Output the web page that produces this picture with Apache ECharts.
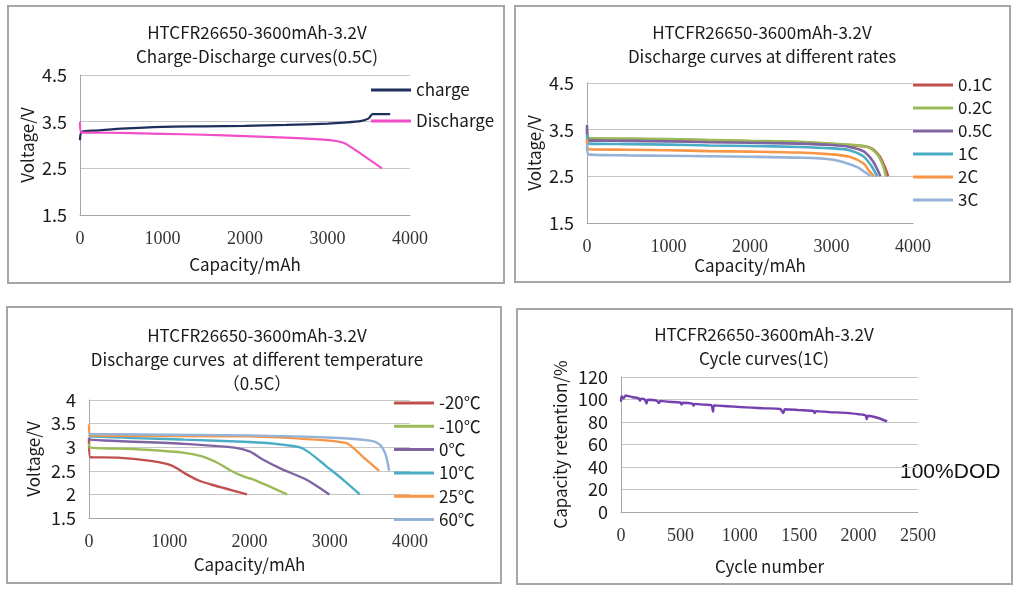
<!DOCTYPE html>
<html>
<head>
<meta charset="utf-8">
<script src="https://cdn.jsdelivr.net/npm/echarts@6/dist/echarts.min.js"></script>
<style>
  html, body { margin: 0; padding: 0; background: #fff; }
  #main { width: 1024px; height: 596px; }
</style>
</head>
<body>
<div id="main"></div>
<script>
// panel 1: charge / discharge at 0.5C  [capacity mAh, voltage V]
const chargeCurve = [[0, 3.10], [20, 3.28], [200, 3.31], [500, 3.35], [1000, 3.39], [1500, 3.40], [2000, 3.41], [2500, 3.43], [3000, 3.46], [3200, 3.48], [3400, 3.51], [3500, 3.57], [3545, 3.66], [3760, 3.66]];
const dischargeCurve = [[0, 3.50], [15, 3.27], [500, 3.26], [1000, 3.24], [1500, 3.22], [2000, 3.19], [2500, 3.16], [2900, 3.12], [3050, 3.10], [3150, 3.07], [3230, 3.02], [3660, 2.50]];

// panel 2: discharge at different rates
const rateNames = ['0.1C', '0.2C', '0.5C', '1C', '2C', '3C'];
const rate01 = [[0, 3.45], [20, 3.31], [500, 3.30], [1000, 3.29], [1500, 3.27], [2000, 3.25], [2600, 3.23], [3000, 3.19], [3420, 3.14], [3510, 3.08], [3590, 2.93], [3650, 2.72], [3695, 2.50]];
const rate02 = [[0, 3.55], [20, 3.32], [500, 3.31], [1000, 3.30], [1500, 3.28], [2000, 3.26], [2600, 3.24], [3000, 3.20], [3400, 3.15], [3490, 3.09], [3570, 2.95], [3630, 2.74], [3668, 2.50]];
const rate05 = [[0, 3.60], [20, 3.27], [500, 3.26], [1000, 3.25], [1500, 3.23], [2000, 3.22], [2600, 3.20], [3000, 3.17], [3220, 3.13], [3390, 3.04], [3470, 2.91], [3530, 2.76], [3600, 2.50]];
const rate1 = [[0, 3.40], [20, 3.20], [500, 3.19], [1000, 3.18], [1500, 3.16], [2000, 3.15], [2600, 3.13], [3000, 3.10], [3220, 3.06], [3390, 2.93], [3490, 2.72], [3560, 2.50]];
const rate2 = [[0, 3.30], [20, 3.08], [500, 3.07], [1000, 3.06], [1500, 3.04], [2000, 3.03], [2600, 3.01], [3000, 2.97], [3220, 2.92], [3390, 2.78], [3470, 2.60], [3520, 2.50]];
const rate3 = [[0, 3.20], [20, 2.97], [500, 2.95], [1000, 2.94], [1500, 2.93], [2000, 2.92], [2600, 2.90], [3000, 2.86], [3300, 2.71], [3420, 2.58], [3480, 2.50]];

// panel 3: discharge at different temperature (0.5C)
const tempNames = ['-20℃', '-10℃', '0℃', '10℃', '25℃', '60℃'];
const tempM20 = [[0, 3.20], [15, 2.79], [360, 2.78], [770, 2.71], [980, 2.64], [1100, 2.55], [1200, 2.44], [1360, 2.30], [1520, 2.21], [1690, 2.13], [1970, 2.00]];
const tempM10 = [[0, 3.08], [15, 2.99], [360, 2.97], [770, 2.94], [1190, 2.88], [1400, 2.81], [1600, 2.67], [1770, 2.50], [1940, 2.37], [2060, 2.31], [2470, 2.00]];
const temp0 = [[0, 3.20], [15, 3.16], [360, 3.13], [1190, 3.07], [1810, 2.99], [2000, 2.91], [2165, 2.74], [2410, 2.53], [2700, 2.32], [2995, 2.00]];
const temp10 = [[0, 3.26], [15, 3.23], [1190, 3.16], [2000, 3.11], [2330, 3.07], [2620, 3.00], [2750, 2.88], [2955, 2.60], [3160, 2.32], [3375, 2.00]];
const temp25 = [[0, 3.48], [15, 3.25], [2000, 3.23], [2830, 3.16], [3200, 3.09], [3290, 2.99], [3450, 2.74], [3615, 2.50]];
const temp60 = [[0, 3.30], [15, 3.28], [2000, 3.25], [3040, 3.20], [3500, 3.14], [3620, 3.06], [3695, 2.85], [3740, 2.50]];

// panel 4: cycle life at 1C  [cycle, capacity retention %]
const cycleCurve = [[0, 98], [5, 103], [20, 101], [40, 103.5], [60, 103], [100, 102], [150, 101], [160, 99], [170, 100.8], [200, 100], [215, 96.5], [225, 99.8], [300, 99], [320, 96.8], [330, 98.8], [400, 98], [500, 97.3], [510, 95.5], [520, 97.1], [600, 96.3], [610, 94.5], [620, 96.1], [700, 95.4], [760, 95], [775, 89], [785, 94.8], [900, 94], [1000, 93.3], [1100, 92.8], [1200, 92.2], [1340, 91.6], [1366, 88], [1380, 91.4], [1500, 90.6], [1620, 89.8], [1630, 88], [1640, 89.7], [1750, 88.8], [1900, 88.1], [2000, 86.9], [2060, 85.8], [2068, 82.5], [2080, 85.5], [2150, 84], [2240, 80.6]];

const rateColors = ['#c0504d', '#9bbb59', '#8064a2', '#4bacc6', '#f79646', '#95b3d7'];
const sans = '"Noto Sans CJK SC", "Noto Sans", sans-serif';
const serif = '"Liberation Serif", "DejaVu Serif", serif';
const gridLine = '#c6c6c6';
const axisGray = '#a6a6a6';

function xAxisOf(idx, max, interval, name, gap) {
  return {
    gridIndex: idx, type: 'value', min: 0, max: max, interval: interval,
    axisLine: { show: true, onZero: false, lineStyle: { color: axisGray } },
    axisTick: { show: false },
    splitLine: { show: false },
    axisLabel: { margin: 15, fontFamily: serif, fontSize: 18, color: '#333', formatter: v => String(v) },
    name: name, nameLocation: 'middle', nameGap: gap,
    nameTextStyle: { fontFamily: sans, fontSize: 17, color: '#1a1a1a' }
  };
}

function yAxisOf(idx, min, max, interval, name, gap) {
  return {
    gridIndex: idx, type: 'value', min: min, max: max, interval: interval,
    axisLine: { show: true, lineStyle: { color: axisGray } },
    axisTick: { show: false },
    splitLine: { show: true, lineStyle: { color: gridLine } },
    axisLabel: { margin: 13, fontFamily: sans, fontSize: 18, color: '#1a1a1a' },
    name: name, nameLocation: 'middle', nameGap: gap,
    nameTextStyle: { fontFamily: sans, fontSize: 17, color: '#1a1a1a' }
  };
}

function line(name, idx, data, color, width) {
  return {
    name: name, type: 'line', xAxisIndex: idx, yAxisIndex: idx,
    data: data, showSymbol: false, smooth: 0.25,
    lineStyle: { color: color, width: width || 2.2 }, itemStyle: { color: color }
  };
}

function legendOf(names, left, top, gap) {
  return {
    data: names, orient: 'vertical', left: left, top: top, padding: 0,
    icon: 'rect', itemWidth: 40, itemHeight: 3, itemGap: gap, selectedMode: false,
    textStyle: { fontFamily: sans, fontSize: 17, color: '#1a1a1a', lineHeight: 20 }
  };
}

function titleOf(text, x, y) {
  return {
    text: text, left: x, top: y, textAlign: 'center', padding: 0,
    textStyle: { fontFamily: sans, fontSize: 17, fontWeight: 'normal', color: '#1a1a1a', lineHeight: 24 }
  };
}

const rateData = [rate01, rate02, rate05, rate1, rate2, rate3];
const tempData = [tempM20, tempM10, temp0, temp10, temp25, temp60];

const series = [
  line('charge', 0, chargeCurve, '#1f2f5c'),
  line('Discharge', 0, dischargeCurve, '#f04fc8')
];
rateNames.forEach((n, i) => series.push(line(n, 1, rateData[i], rateColors[i], 2.6)));
tempNames.forEach((n, i) => series.push(line(n, 2, tempData[i], rateColors[i], 2.4)));
series.push(line('cycle', 3, cycleCurve, '#7440b0', 2.4));

const chart = echarts.init(document.getElementById('main'));
chart.setOption({
  animation: false,
  backgroundColor: '#fff',
  title: [
    titleOf('HTCFR26650-3600mAh-3.2V\nCharge-Discharge curves(0.5C)', 257, 21),
    titleOf('HTCFR26650-3600mAh-3.2V\nDischarge curves at different rates', 762, 21),
    titleOf('HTCFR26650-3600mAh-3.2V\nDischarge curves  at different temperature\n（0.5C）', 257, 324),
    titleOf('HTCFR26650-3600mAh-3.2V\nCycle curves(1C)', 764, 323)
  ],
  legend: [
    legendOf(['charge', 'Discharge'], 371, 80, 11),
    legendOf(rateNames, 913, 75, 3),
    legendOf(tempNames, 394, 393, 3.3)
  ],
  grid: [
    { left: 80, top: 75, width: 330, height: 140 },
    { left: 587, top: 83, width: 326, height: 140 },
    { left: 89, top: 400, width: 321, height: 118 },
    { left: 621, top: 377, width: 297, height: 135 }
  ],
  xAxis: [
    xAxisOf(0, 4000, 1000, 'Capacity/mAh', 41),
    xAxisOf(1, 4000, 1000, 'Capacity/mAh', 31),
    xAxisOf(2, 4000, 1000, 'Capacity/mAh', 38),
    xAxisOf(3, 2500, 500, 'Cycle number', 46)
  ],
  yAxis: [
    yAxisOf(0, 1.5, 4.5, 1, 'Voltage/V', 44),
    yAxisOf(1, 1.5, 4.5, 1, 'Voltage/V', 44),
    yAxisOf(2, 1.5, 4, 0.5, 'Voltage/V', 47),
    yAxisOf(3, 0, 120, 20, 'Capacity retention/%', 52)
  ],
  graphic: [
    { type: 'rect', shape: { x: 8, y: 6, width: 496, height: 277 }, style: { fill: 'none', stroke: axisGray, lineWidth: 2 } },
    { type: 'rect', shape: { x: 515, y: 6, width: 495, height: 276 }, style: { fill: 'none', stroke: axisGray, lineWidth: 2 } },
    { type: 'rect', shape: { x: 7, y: 307, width: 494, height: 276 }, style: { fill: 'none', stroke: axisGray, lineWidth: 2 } },
    { type: 'rect', shape: { x: 517, y: 309, width: 495, height: 275 }, style: { fill: 'none', stroke: axisGray, lineWidth: 2 } },
    { type: 'text', left: 900, top: 462, style: { text: '100%DOD', font: '21px "Liberation Sans", Arial, sans-serif', fill: '#111' } }
  ],
  series: series
});
</script>
</body>
</html>
